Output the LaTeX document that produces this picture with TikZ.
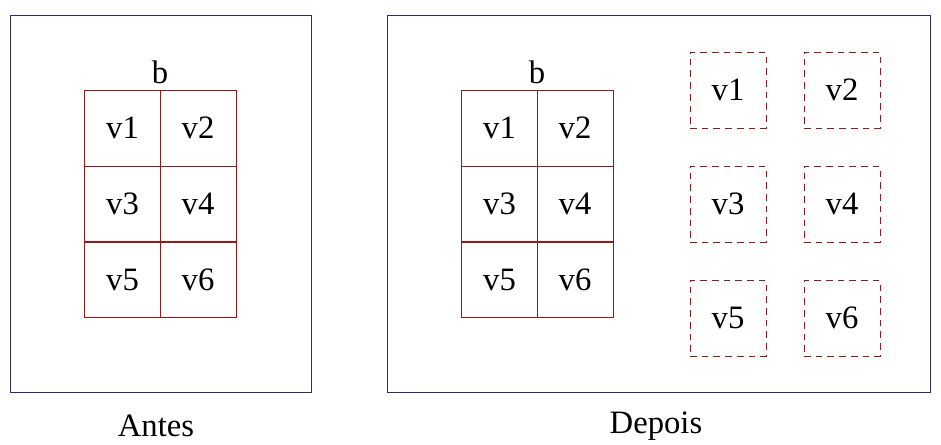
\documentclass[tikz,border=0pt]{standalone}
\usepackage{fontspec}
\setmainfont{Liberation Serif}
\definecolor{framecol}{RGB}{45,45,110}
\definecolor{cellcol}{RGB}{150,25,25}
\begin{document}
\begin{tikzpicture}[x=0.75pt,y=-0.75pt,
  every node/.style={font=\fontsize{24.5}{28}\selectfont, inner sep=0pt},
  frame/.style={draw=framecol, line width=0.7pt},
  cell/.style={draw=cellcol, line width=0.7pt, minimum width=57pt, minimum height=57pt, anchor=center},
  dcell/.style={cell, dash pattern=on 5pt off 3.8pt}]
\useasboundingbox (0,0) rectangle (941,444);
\draw[frame] (10,15) rectangle (311,392);
\draw[frame] (387,15) rectangle (930,392);
% left grid
\node[cell] (la1) at (122.5,128) {v1};
\node[cell] (la2) at (198,128) {v2};
\node[cell] (la3) at (122.5,204) {v3};
\node[cell] (la4) at (198,204) {v4};
\node[cell] (la5) at (122.5,279.5) {v5};
\node[cell] (la6) at (198,279.5) {v6};
\node (lb) at (160,72) {b};
% right grid
\node[cell] (ra1) at (499.5,128) {v1};
\node[cell] (ra2) at (575,128) {v2};
\node[cell] (ra3) at (499.5,204) {v3};
\node[cell] (ra4) at (575,204) {v4};
\node[cell] (ra5) at (499.5,279.5) {v5};
\node[cell] (ra6) at (575,279.5) {v6};
\node (rb) at (537,72) {b};
% dashed
\node[dcell] (d1) at (728,90) {v1};
\node[dcell] (d2) at (842,90) {v2};
\node[dcell] (d3) at (728,204) {v3};
\node[dcell] (d4) at (842,204) {v4};
\node[dcell] (d5) at (728,318) {v5};
\node[dcell] (d6) at (842,318) {v6};
\node (antes) at (156,426) {Antes};
\node (depois) at (656,426) {Depois};
\end{tikzpicture}
\end{document}
